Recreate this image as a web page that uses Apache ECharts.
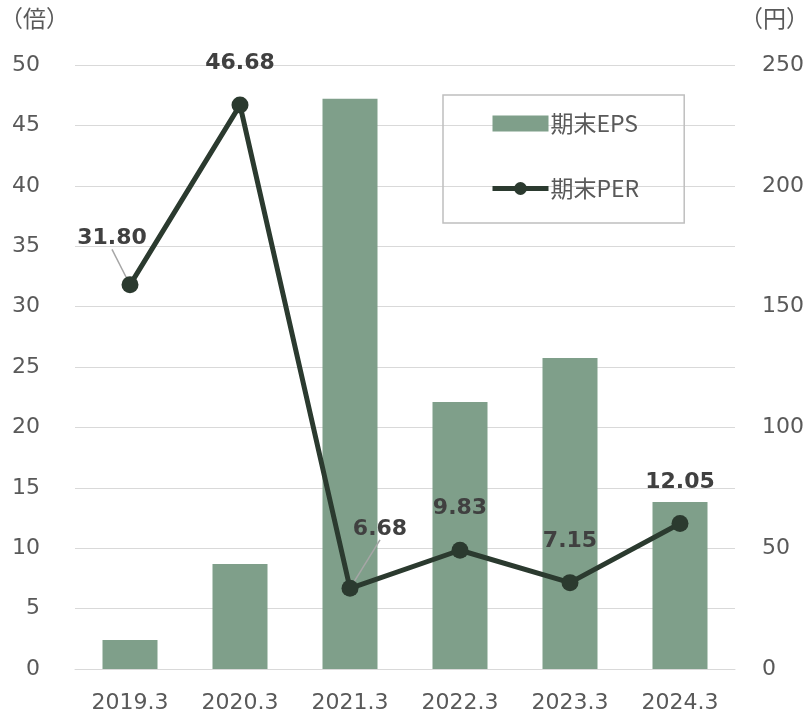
<!DOCTYPE html>
<html>
<head>
<meta charset="utf-8">
<script src="https://cdn.jsdelivr.net/npm/echarts@6/dist/echarts.min.js"></script>
<style>
html,body{margin:0;padding:0;background:#fff;}
#chart{width:808px;height:717px;}
</style>
</head>
<body>
<div id="chart"></div>
<script>
// Fiscal year ends
const categories = ['2019.3', '2020.3', '2021.3', '2022.3', '2023.3', '2024.3'];
// 期末EPS (円), right axis
const epsValues = [12.0, 43.5, 236.0, 110.5, 128.7, 69.1];
// 期末PER (倍), left axis
const perValues = [31.80, 46.68, 6.68, 9.83, 7.15, 12.05];

const numFont = 'DejaVu Sans, Verdana, sans-serif';
const cjkFont = '"Noto Sans CJK JP", "Noto Sans", sans-serif';
const lineColor = '#2b3a2f';

// Labels that sit away from their point, joined to it by a guide line
const labelShift = { 0: [-18, -5], 2: [30, -18] };

const perData = perValues.map((v, i) => ({
  value: v,
  labelLine: { show: !!labelShift[i] }
}));

const chart = echarts.init(document.getElementById('chart'), null, { renderer: 'canvas' });

chart.setOption({
  animation: false,
  backgroundColor: '#ffffff',
  title: [
    { text: '（倍）', left: -5, top: 2, textStyle: { fontFamily: cjkFont, fontSize: 23, fontWeight: 'normal', color: '#595959' } },
    { text: '（円）', right: -6, top: 2, textStyle: { fontFamily: cjkFont, fontSize: 23, fontWeight: 'normal', color: '#595959' } }
  ],
  grid: { left: 75, right: 73, top: 65, bottom: 48, containLabel: false },
  legend: {
    orient: 'vertical',
    left: 443, top: 95,
    padding: [17, 45, 23, 47],
    itemGap: 42,
    itemWidth: 56, itemHeight: 16,
    borderColor: '#bfbfbf', borderWidth: 1.5,
    textStyle: { fontFamily: cjkFont, fontSize: 23, color: '#595959', padding: [0, 0, 0, -3] },
    data: [
      { name: '期末EPS', icon: 'rect', itemHeight: 15 },
      { name: '期末PER', lineStyle: { width: 5, color: lineColor }, itemStyle: { color: lineColor } }
    ]
  },
  xAxis: {
    type: 'category',
    data: categories,
    axisLine: { show: true, lineStyle: { color: '#d9d9d9', width: 1 } },
    axisTick: { show: false },
    axisLabel: { fontFamily: numFont, fontSize: 22, color: '#595959', margin: 23 }
  },
  yAxis: [
    {
      type: 'value', min: 0, max: 50, interval: 5,
      axisLine: { show: false }, axisTick: { show: false },
      splitLine: { lineStyle: { color: '#d9d9d9', width: 1 } },
      axisLabel: { fontFamily: numFont, fontSize: 22, color: '#595959', margin: 35 }
    },
    {
      type: 'value', min: 0, max: 250, interval: 50,
      axisLine: { show: false }, axisTick: { show: false },
      splitLine: { show: false },
      axisLabel: { fontFamily: numFont, fontSize: 22, color: '#595959', margin: 27 }
    }
  ],
  series: [
    {
      name: '期末EPS',
      type: 'bar',
      yAxisIndex: 1,
      data: epsValues,
      barWidth: '50%',
      itemStyle: { color: '#7f9f8a' },
      z: 1
    },
    {
      name: '期末PER',
      type: 'line',
      yAxisIndex: 0,
      data: perData,
      symbol: 'circle',
      symbolSize: 17,
      lineStyle: { color: lineColor, width: 5 },
      itemStyle: { color: lineColor },
      label: {
        show: true,
        position: 'top',
        distance: 22,
        fontFamily: numFont,
        fontSize: 22,
        fontWeight: 'bold',
        color: '#404040',
        formatter: p => p.value.toFixed(2)
      },
      labelLine: { show: false, lineStyle: { color: '#a6a6a6', width: 1.5 } },
      labelLayout: function (params) {
        const s = labelShift[params.dataIndex];
        if (s) return { dx: s[0], dy: s[1] };
        return {};
      },
      z: 3
    }
  ]
});
</script>
</body>
</html>
